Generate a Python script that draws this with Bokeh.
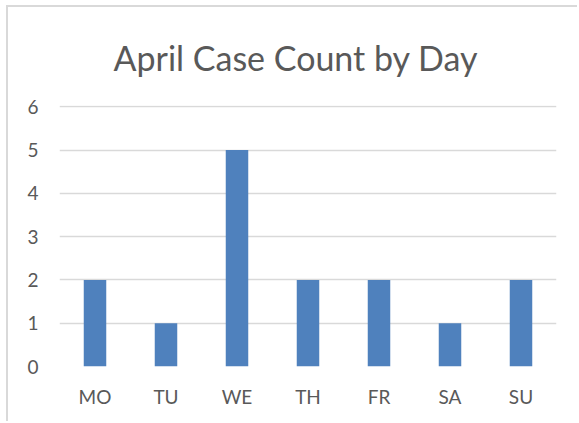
from bokeh.plotting import figure
from bokeh.models import ColumnDataSource, Range1d, FixedTicker
from bokeh.embed import file_html
from bokeh.resources import INLINE

days = ["MO", "TU", "WE", "TH", "FR", "SA", "SU"]
counts = [2, 1, 5, 2, 2, 1, 2]
y_ticks = [0, 1, 2, 3, 4, 5, 6]

TEXT = "#595959"
GRID = "#d9d9d9"
BAR = "#4f81bd"
FONT = "Lato"

src = ColumnDataSource(data=dict(day=days, count=counts))

p = figure(
    x_range=days, y_range=Range1d(0, 6.03),
    width=571, height=416,
    output_backend="svg", toolbar_location=None,
    title="April Case Count by Day",
    min_border_left=51, min_border_right=23, min_border_bottom=57, min_border_top=10,
)
p.styles = {"margin-left": "6px", "margin-top": "5px",
            "border-top": "2px solid #d9d9d9", "border-left": "2px solid #d9d9d9"}
p.x_range.range_padding = 0

p.vbar(x="day", top="count", width=0.317, source=src, fill_color=BAR, line_color=None)

p.title.align = "left"
p.title.text_font = FONT
p.title.text_font_size = "34px"
p.title.text_font_style = "normal"
p.title.text_color = TEXT
p.title.padding = 0
p.title.offset = 54
p.title.standoff = 55

p.outline_line_color = None
p.background_fill_color = "white"
p.border_fill_color = "white"

p.xgrid.grid_line_color = None
p.ygrid.grid_line_color = GRID
p.ygrid.grid_line_width = 1.5
p.yaxis.ticker = FixedTicker(ticks=y_ticks)

for ax in (p.xaxis[0], p.yaxis[0]):
    ax.axis_line_color = None
    ax.major_tick_line_color = None
    ax.minor_tick_line_color = None
    ax.major_label_text_font = FONT
    ax.major_label_text_font_size = "19px"
    ax.major_label_text_color = TEXT

p.yaxis.major_label_standoff = 15
p.xaxis.major_label_standoff = 12

open("out.html", "w").write(file_html(p, INLINE))
